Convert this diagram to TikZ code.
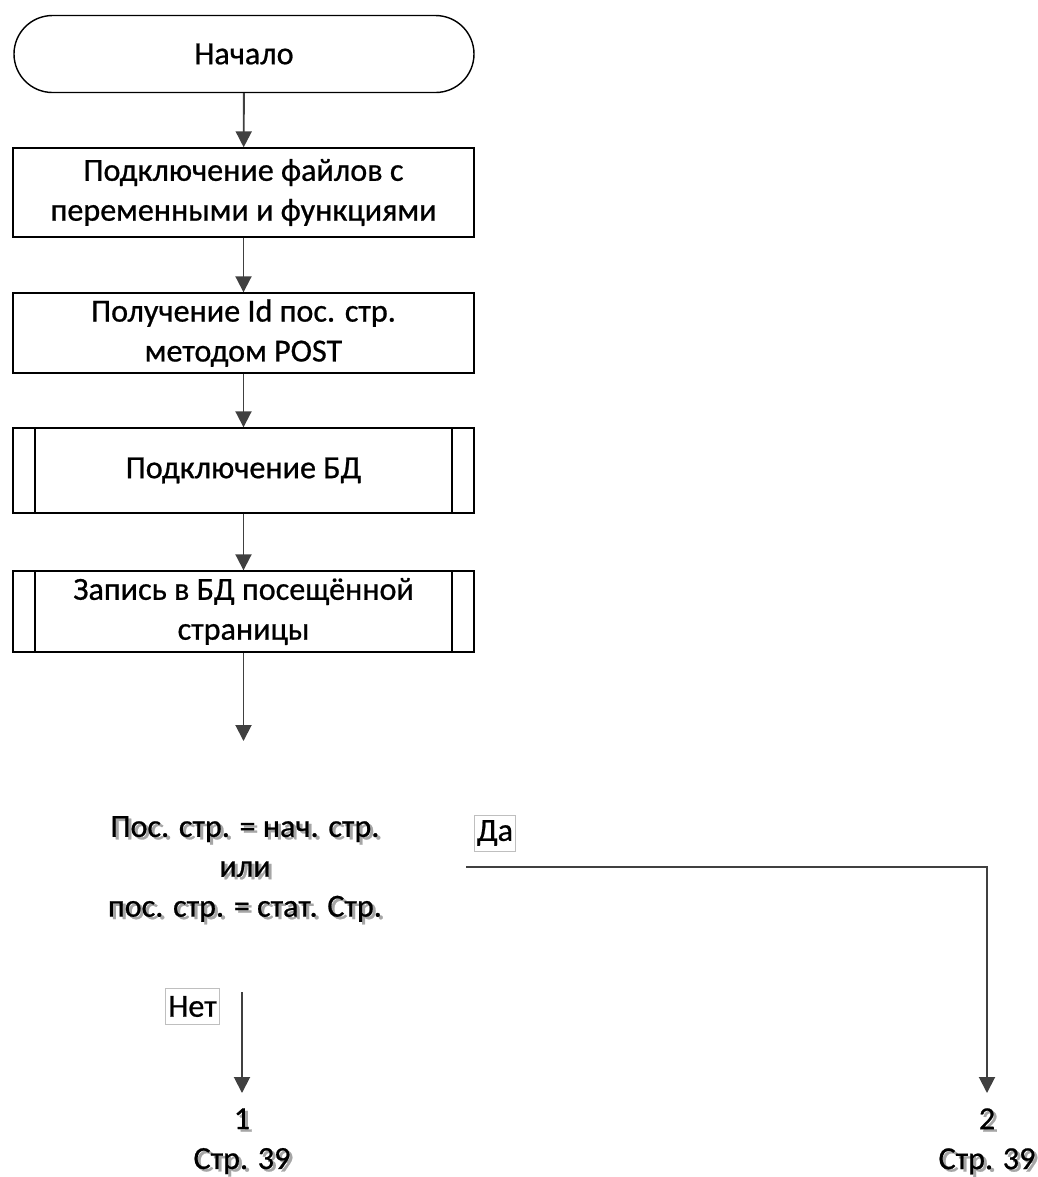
\documentclass[tikz,border=0pt]{standalone}
\usepackage{fontspec}
\setmainfont{Carlito}
\newfontfamily\chartfont[FakeBold=0.7]{Carlito}
\usetikzlibrary{arrows.meta}
\usetikzlibrary{shapes.geometric}

\begin{document}
\begin{tikzpicture}[every node/.style={font=\chartfont\fontsize{18.3}{22.7}\selectfont,align=center},
    block/.style={shape=rectangle,draw=black,line width=0.8pt,minimum width=9.22cm},
    subblock/.style={block,path picture={
      \draw[black,line width=0.8pt]
       ([xshift=0.44cm]path picture bounding box.north west) -- ([xshift=0.44cm]path picture bounding box.south west)
       ([xshift=-0.44cm]path picture bounding box.north east) -- ([xshift=-0.44cm]path picture bounding box.south east);
      }},
    flow/.style={-{Triangle[length=3.2mm,width=3.2mm]},line width=1.1pt,draw=black!75},
    tag/.style={shape=rectangle,draw=black!25,line width=0.5pt,inner sep=1.5pt,minimum height=0.72cm},
    pagetext/.style={shape=rectangle,inner sep=0.3cm,anchor=north},
    shadowtext/.style={pagetext,text=black!35}]
      \useasboundingbox (0,0) rectangle (20.74,-23.54);
      %\draw[help lines] (0,0) grid (21,-24); % Only for Development

      \node[block,
        rounded corners=0.77cm,
        minimum height = 1.54cm,
        minimum width = 9.2cm] (start) at (4.88,-1.08) {Начало};
      \node[block,
        minimum height = 1.78cm] (files) at (4.87,-3.85) {Подключение файлов с\\переменными и функциями};
      \node[block,
        minimum height = 1.6cm] (postid) at (4.87,-6.66) {Получение Id пос. стр.\\методом POST};
      \node[subblock,
        minimum height = 1.7cm] (dbconn) at (4.87,-9.41) {Подключение БД};
      \node[subblock,
        minimum height = 1.62cm] (dbwrite) at (4.87,-12.23) {Запись в БД посещённой\\страницы};

      \draw[flow] (start) -- (files);
      \draw[flow] (files) -- (postid);
      \draw[flow] (postid) -- (dbconn);
      \draw[flow] (dbconn) -- (dbwrite);

      % condition (its outline is not drawn)
      \coordinate (condtop) at (4.87,-14.82);
      \coordinate (condright) at (9.32,-17.34);
      \coordinate (condbottom) at (4.84,-19.84);
      \node[shadowtext,anchor=center,inner sep=0pt] (condshadow) at (4.96,-17.43) {Пос. стр. = нач. стр.\\или\\пос. стр. = стат. Стр.};
      \node[pagetext,anchor=center,inner sep=0pt] (cond) at (4.9,-17.38) {Пос. стр. = нач. стр.\\или\\пос. стр. = стат. Стр.};
      \draw[flow] (dbwrite) -- (condtop);

      \node[tag] (yes) at (9.9,-16.66) {Да};
      \node[tag] (no) at (3.85,-20.13) {Нет};

      % page connectors
      \node[shadowtext] (page1shadow) at (4.9,-21.91) {1\\Стр. 39};
      \node[pagetext] (page1) at (4.84,-21.86) {1\\Стр. 39};
      \node[shadowtext] (page2shadow) at (19.8,-21.91) {2\\Стр. 39};
      \node[pagetext] (page2) at (19.74,-21.86) {2\\Стр. 39};

      \draw[flow] (condbottom) -- (page1.north);
      \draw[flow] (condright) -| (page2.north);

    \end{tikzpicture}
\end{document}
